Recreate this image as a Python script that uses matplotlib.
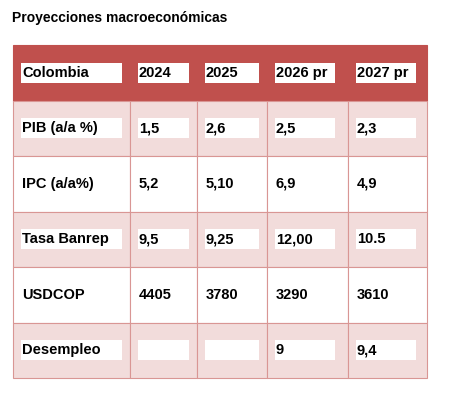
import matplotlib.pyplot as plt
from matplotlib.patches import Rectangle

title = "Proyecciones macroeconómicas"
header = ["Colombia", "2024", "2025", "2026 pr", "2027 pr"]
rows = ["PIB (a/a %)", "IPC (a/a%)", "Tasa Banrep", "USDCOP", "Desempleo"]
values = [
    ["1,5", "2,6", "2,5", "2,3"],
    ["5,2", "5,10", "6,9", "4,9"],
    ["9,5", "9,25", "12,00", "10.5"],
    ["4405", "3780", "3290", "3610"],
    ["", "", "9", "9,4"],
]

col_x = [13, 130, 197, 267, 348, 427]
top, row_h = 45, 55.5
red, pink, edge = "#C0504D", "#F2DCDB", "#D99694"

fig = plt.figure(figsize=(4.77, 4.05), dpi=100)
ax = fig.add_axes([0, 0, 1, 1])
ax.set_xlim(0, 477)
ax.set_ylim(405, 0)
ax.axis("off")

fig.text(12 / 477, 1 - 18 / 405, title, fontsize=10, fontweight="bold",
         family="Liberation Sans", va="center")

table = [header] + [[r] + v for r, v in zip(rows, values)]
for i, line in enumerate(table):
    y0 = top + i * row_h
    if i == 0:
        bg = red
    elif i % 2 == 1:
        bg = pink
    else:
        bg = "white"
    boxed = bg != "white"
    for j, txt in enumerate(line):
        x0, x1 = col_x[j], col_x[j + 1]
        ax.add_patch(Rectangle((x0, y0), x1 - x0, row_h, facecolor=bg,
                               edgecolor=red if i == 0 else edge, lw=0.8))
        yc = y0 + row_h / 2
        if boxed:
            bw = (x1 - x0) - 16 if j == 0 else min(60, x1 - x0 - 16)
            ax.add_patch(Rectangle((x0 + 8, yc - 10), bw, 20,
                                   facecolor="white", edgecolor="none"))
        ax.text(x0 + 9, yc, txt, fontsize=10.5, fontweight="bold",
                family="Liberation Sans", va="center", ha="left", color="black")

fig.savefig("out.png", dpi=100)
